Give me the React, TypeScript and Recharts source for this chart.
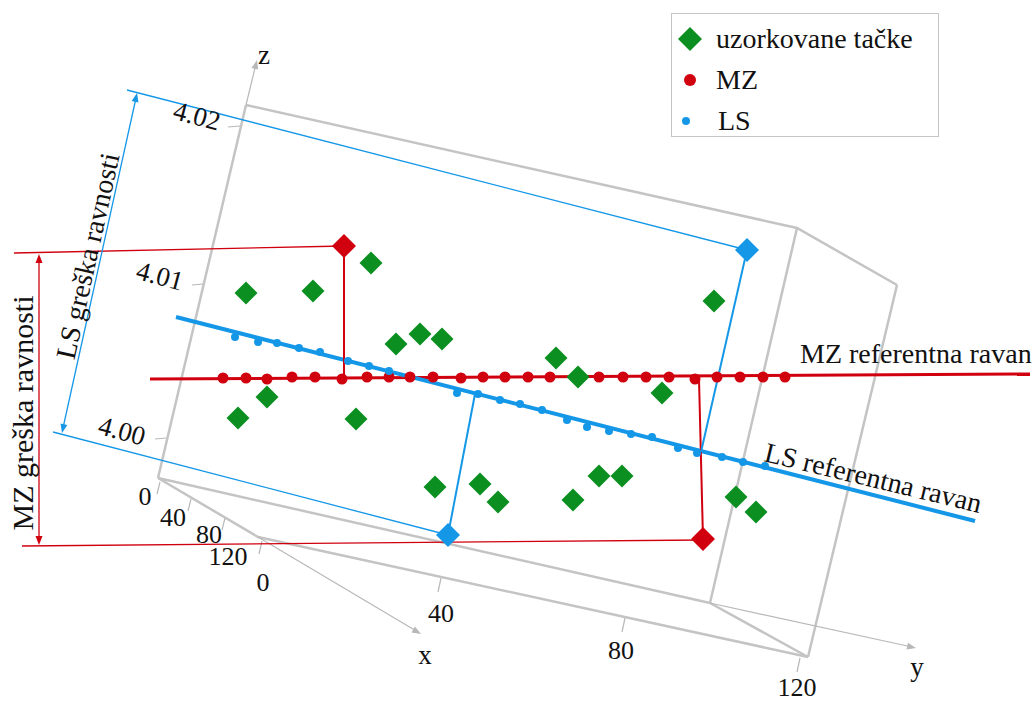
import React from "react";
import { ScatterChart, Scatter, XAxis, YAxis, Legend } from "recharts";

// drawing is in the projected (screen) plane of the 3D plot: x to the right, y downward
const W = 1033;
const H = 702;
const FONT = '"Liberation Serif", "Times New Roman", serif';
const GREEN = "#0a8f20";
const RED = "#d0000f";
const BLUE = "#1597e8";
const GRAY = "#c4c4c4";
const AXIS_GRAY = "#b8b8b8";

type P = [number, number];

// sampled points
const uzorkovane: P[] = [
  [246, 293], [313, 291], [371, 263], [396, 344], [420, 334], [442, 339],
  [556, 358], [578, 377], [662, 393], [714, 301], [238, 418], [267, 397],
  [356, 419], [435, 487], [480, 484], [498, 502], [573, 500], [599, 476],
  [622, 476], [736, 497], [756, 512],
];
// MZ plane points
const mzTacke: P[] = [
  [223, 378], [246, 378], [267, 379], [292, 377], [315, 377], [342, 379],
  [367, 377], [389, 377], [410, 377], [433, 377], [461, 378], [483, 377],
  [505, 377], [528, 377], [550, 377], [576, 377], [599, 377], [623, 377],
  [646, 377], [669, 377], [695, 379], [717, 377], [740, 377], [763, 377],
  [785, 377],
];
// LS plane points
const lsTacke: P[] = [
  [235, 337], [258, 342], [277, 343], [299, 348], [320, 352], [348, 361],
  [369, 366], [389, 371], [457, 393], [478, 394], [500, 400], [520, 404],
  [542, 410], [567, 420], [587, 427], [609, 431], [631, 434], [652, 437],
  [678, 448], [697, 453], [722, 457], [743, 462], [765, 466],
];
const mzEkstremi: P[] = [[344, 246], [703, 539]];
const lsEkstremi: P[] = [[747, 250], [448, 535]];

const mzRavan: P[] = [[150, 379], [1030, 374]];
const lsRavan: P[] = [[176, 317], [975, 521]];

// box and axes
const boxEdges: P[][] = [
  [[246, 105], [797, 228], [897, 285]],
  [[797, 228], [710, 603]],
  [[897, 285], [808, 657]],
  [[246, 105], [158, 478]],
  [[158, 478], [710, 603]],
  [[158, 478], [258, 537], [808, 657]],
  [[710, 603], [808, 657]],
];
const axisLines: P[][] = [
  [[246, 105], [256, 64]],
  [[258, 537], [418, 632]],
  [[710, 603], [912, 647]],
];
const tickMarks: P[][] = [
  [[228, 127], [240, 126]], [[192, 285], [203, 284]], [[155, 439], [166, 438]],
  [[160, 482], [157, 494]], [[191, 499], [188, 511]], [[225, 518], [222, 530]],
  [[262, 541], [259, 554]], [[441, 578], [438, 592]], [[625, 618], [622, 632]],
  [[800, 658], [797, 672]],
];

// connectors and error dimensions
const redThick: P[][] = [
  [[344, 246], [344, 377]],
  [[703, 539], [699, 379]],
];
const blueThick: P[][] = [
  [[747, 250], [701, 452]],
  [[448, 535], [475, 394]],
];
const redThin: P[][] = [
  [[14, 253], [344, 246]],
  [[22, 546], [703, 540]],
  [[39, 258], [39, 541]],
];
const blueThin: P[][] = [
  [[127, 90], [747, 250]],
  [[53, 432], [448, 535]],
  [[136, 98], [63, 428]],
];

const arrows = [
  { x: 39, y: 254, angle: -90, color: RED },
  { x: 39, y: 545, angle: 90, color: RED },
  { x: 137, y: 93, angle: -77.5, color: BLUE },
  { x: 62, y: 433, angle: 102.5, color: BLUE },
  { x: 257, y: 60, angle: -76, color: AXIS_GRAY },
  { x: 421, y: 634, angle: 30.5, color: AXIS_GRAY },
  { x: 916, y: 648, angle: 12.4, color: AXIS_GRAY },
];

const zTicks = ["4.02", "4.01", "4.00"];
const xTicks = ["0", "40", "80", "120"];
const yTicks = ["0", "40", "80", "120"];

const labels = [
  { x: 264, y: 55, text: "z", angle: 0, size: 27, anchor: "middle" },
  { x: 425, y: 655, text: "x", angle: 0, size: 27, anchor: "middle" },
  { x: 917, y: 667, text: "y", angle: 0, size: 27, anchor: "middle" },
  { x: 197, y: 116, text: zTicks[0], angle: 15, size: 27, anchor: "middle" },
  { x: 160, y: 276, text: zTicks[1], angle: 15, size: 27, anchor: "middle" },
  { x: 122, y: 431, text: zTicks[2], angle: 15, size: 27, anchor: "middle" },
  { x: 145, y: 496, text: xTicks[0], angle: 0, size: 26, anchor: "middle" },
  { x: 173, y: 517, text: xTicks[1], angle: 0, size: 26, anchor: "middle" },
  { x: 209, y: 534, text: xTicks[2], angle: 0, size: 26, anchor: "middle" },
  { x: 228, y: 556, text: xTicks[3], angle: 0, size: 26, anchor: "middle" },
  { x: 263, y: 582, text: yTicks[0], angle: 0, size: 26, anchor: "middle" },
  { x: 441, y: 613, text: yTicks[1], angle: 0, size: 26, anchor: "middle" },
  { x: 621, y: 650, text: yTicks[2], angle: 0, size: 26, anchor: "middle" },
  { x: 797, y: 687, text: yTicks[3], angle: 0, size: 26, anchor: "middle" },
];
const baselineLabels = [
  { x: 800, y: 363, text: "MZ referentna ravan", angle: 0, size: 28, anchor: "start" },
  { x: 763, y: 461, text: "LS referentna ravan", angle: 13.5, size: 28, anchor: "start" },
  { x: 33, y: 413, text: "MZ greška ravnosti", angle: -90, size: 30, anchor: "middle" },
  { x: 97, y: 258, text: "LS greška ravnosti", angle: -77.5, size: 28, anchor: "middle" },
];

const toXY = (pts: P[]) => pts.map(([x, y]) => ({ x, y }));

const diamond = (color: string, h: number) => (props: any) => {
  const { cx, cy } = props;
  return <path d={`M${cx},${cy - h}L${cx + h},${cy}L${cx},${cy + h}L${cx - h},${cy}Z`} fill={color} />;
};
const dot = (color: string, r: number) => (props: any) => (
  <circle cx={props.cx} cy={props.cy} r={r} fill={color} />
);
const none = () => <g />;
const arrowShape = (props: any) => {
  const p = props.payload ?? props;
  return (
    <polygon
      points="0,0 -9,-3.5 -9,3.5"
      fill={p.color}
      transform={`translate(${props.cx},${props.cy}) rotate(${p.angle})`}
    />
  );
};
const textShape = (central: boolean) => (props: any) => {
  const p = props.payload ?? props;
  return (
    <text
      x={props.cx}
      y={props.cy}
      transform={`rotate(${p.angle} ${props.cx} ${props.cy})`}
      textAnchor={p.anchor}
      dominantBaseline={central ? "central" : "alphabetic"}
      fontSize={p.size}
      fontFamily={FONT}
      fill="#111"
    >
      {p.text}
    </text>
  );
};

const legendItems = [
  { name: "uzorkovane tačke", kind: "diamond", color: GREEN },
  { name: "MZ", kind: "big", color: RED },
  { name: "LS", kind: "small", color: BLUE },
];

const renderLegend = () => (
  <div
    style={{
      border: `1.5px solid ${GRAY}`,
      width: 268,
      height: 124,
      boxSizing: "border-box",
      fontFamily: FONT,
      fontSize: 28,
      color: "#111",
      background: "#fff",
      padding: "4px 0 0 6px",
    }}
  >
    {legendItems.map((it) => (
      <div key={it.name} style={{ display: "flex", alignItems: "center", height: 41 }}>
        <svg width={32} height={30} style={{ marginRight: it.kind === "small" ? 8 : 6 }}>
          {it.kind === "diamond" && <path d="M12,3L24,15L12,27L0,15Z" fill={it.color} />}
          {it.kind === "big" && <circle cx={12} cy={15} r={6} fill={it.color} />}
          {it.kind === "small" && <circle cx={8} cy={15} r={4} fill={it.color} />}
        </svg>
        <span style={{ lineHeight: 1 }}>{it.name}</span>
      </div>
    ))}
  </div>
);

export default function App() {
  let k = 0;
  const seg = (pts: P[], stroke: string, width: number) => (
    <Scatter
      key={`s${k++}`}
      data={toXY(pts)}
      line={{ stroke, strokeWidth: width }}
      lineType="joint"
      shape={none}
      fill="none"
      isAnimationActive={false}
      legendType="none"
    />
  );

  return (
    <div style={{ position: "fixed", left: 0, top: 0, width: W, height: H, background: "#fff" }}>
      <ScatterChart width={W} height={H} margin={{ top: 0, right: 0, bottom: 0, left: 0 }}>
        <XAxis type="number" dataKey="x" domain={[0, W]} allowDataOverflow hide />
        <YAxis type="number" dataKey="y" domain={[0, H]} allowDataOverflow reversed hide />

        {boxEdges.map((e) => seg(e, GRAY, 2.5))}
        {axisLines.map((e) => seg(e, AXIS_GRAY, 1.2))}
        {tickMarks.map((e) => seg(e, AXIS_GRAY, 1.2))}
        {redThin.map((e) => seg(e, RED, 1.3))}
        {blueThin.map((e) => seg(e, BLUE, 1.3))}
        {seg(mzRavan, RED, 3)}
        {seg(lsRavan, BLUE, 4)}
        {redThick.map((e) => seg(e, RED, 2))}
        {blueThick.map((e) => seg(e, BLUE, 2))}

        <Scatter name="MZ" data={toXY(mzTacke)} shape={dot(RED, 5.5)} fill={RED} isAnimationActive={false} />
        <Scatter name="LS" data={toXY(lsTacke)} shape={dot(BLUE, 4)} fill={BLUE} isAnimationActive={false} />
        <Scatter name="uzorkovane tačke" data={toXY(uzorkovane)} shape={diamond(GREEN, 11.5)} fill={GREEN} isAnimationActive={false} />
        <Scatter data={toXY(mzEkstremi)} shape={diamond(RED, 12)} fill={RED} isAnimationActive={false} legendType="none" />
        <Scatter data={toXY(lsEkstremi)} shape={diamond(BLUE, 12)} fill={BLUE} isAnimationActive={false} legendType="none" />

        <Scatter data={arrows} shape={arrowShape} isAnimationActive={false} legendType="none" />
        <Scatter data={labels} shape={textShape(true)} isAnimationActive={false} legendType="none" />
        <Scatter data={baselineLabels} shape={textShape(false)} isAnimationActive={false} legendType="none" />

        <Legend
          layout="vertical"
          align="center"
          verticalAlign="middle"
          content={renderLegend}
          wrapperStyle={{ left: 671, top: 13, width: 270, height: 126 }}
        />
      </ScatterChart>
    </div>
  );
}
